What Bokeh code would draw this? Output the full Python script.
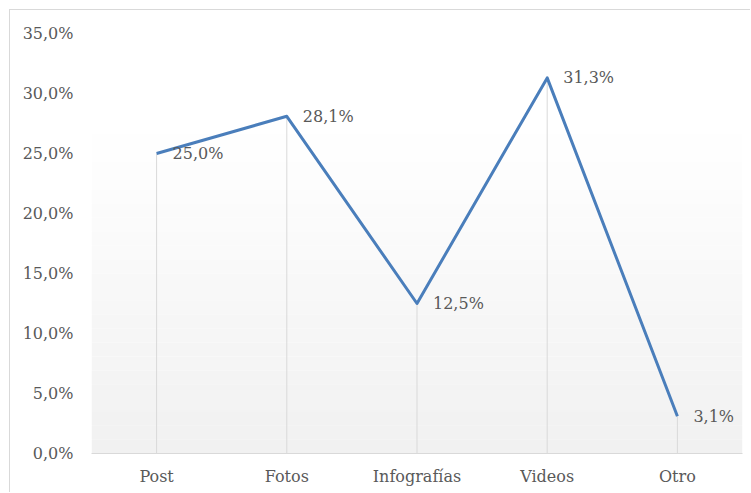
from bokeh.plotting import figure
from bokeh.models import (ColumnDataSource, FactorRange, Range1d, FixedTicker,
                          CustomJSTickFormatter, BoxAnnotation)
from bokeh.embed import file_html
from bokeh.resources import INLINE
from bokeh.core.properties import value

categories = ["Post", "Fotos", "Infografías", "Videos", "Otro"]
values = [25.0, 28.1, 12.5, 31.3, 3.1]
y_ticks = [0, 5, 10, 15, 20, 25, 30, 35]

FONT = "DejaVu Serif"
TXT = "#595959"
FS = "16px"

labels = [("%.1f" % v).replace(".", ",") + "%" for v in values]
src = ColumnDataSource(dict(cat=categories, val=values, zero=[0] * len(values), lab=labels))

p = figure(width=741, height=483, output_backend="svg", toolbar_location=None,
           x_range=FactorRange(*categories, range_padding=0), y_range=Range1d(0, 35),
           min_border_left=81, min_border_right=9, min_border_top=23, min_border_bottom=40)
p.styles = {"border-left": "1px solid #D9D9D9", "border-top": "1px solid #D9D9D9",
            "margin-left": "9px", "margin-top": "9px"}
p.outline_line_color = None
p.xgrid.visible = False
p.ygrid.visible = False

# plot-area gradient background
n = 24
top = 27.75
for i in range(n):
    t = i / (n - 1)
    c = int(round(255 - (255 - 241) * t))
    col = "#%02x%02x%02x" % (c, c, c)
    p.add_layout(BoxAnnotation(bottom=top - (i + 1) * top / n, top=top - i * top / n,
                               fill_color=col, fill_alpha=1, line_color=None, level="underlay"))

p.segment(x0="cat", y0="zero", x1="cat", y1="val", source=src, line_color="#D9D9D9", line_width=1)
p.line(x="cat", y="val", source=src, line_color="#4A7EBB", line_width=3, line_join="round")
p.text(x="cat", y="val", text="lab", source=src, x_offset=16, text_align="left",
       text_baseline="middle", text_font=value(FONT), text_font_size=FS, text_color=TXT)

p.yaxis.ticker = FixedTicker(ticks=y_ticks)
p.yaxis.formatter = CustomJSTickFormatter(code="return tick.toFixed(1).replace('.', ',') + '%';")
p.yaxis.axis_line_color = None
p.yaxis.major_tick_line_color = None
p.yaxis.minor_tick_line_color = None
p.yaxis.major_tick_out = 0
p.yaxis.major_label_standoff = 18
p.yaxis.major_label_text_font = FONT
p.yaxis.major_label_text_font_size = FS
p.yaxis.major_label_text_color = TXT

p.xaxis.axis_line_color = "#D9D9D9"
p.xaxis.major_tick_line_color = None
p.xaxis.minor_tick_line_color = None
p.xaxis.major_tick_out = 0
p.xaxis.major_label_standoff = 13
p.xaxis.major_label_text_font = FONT
p.xaxis.major_label_text_font_size = FS
p.xaxis.major_label_text_color = TXT

open("out.html", "w").write(file_html(p, INLINE))
